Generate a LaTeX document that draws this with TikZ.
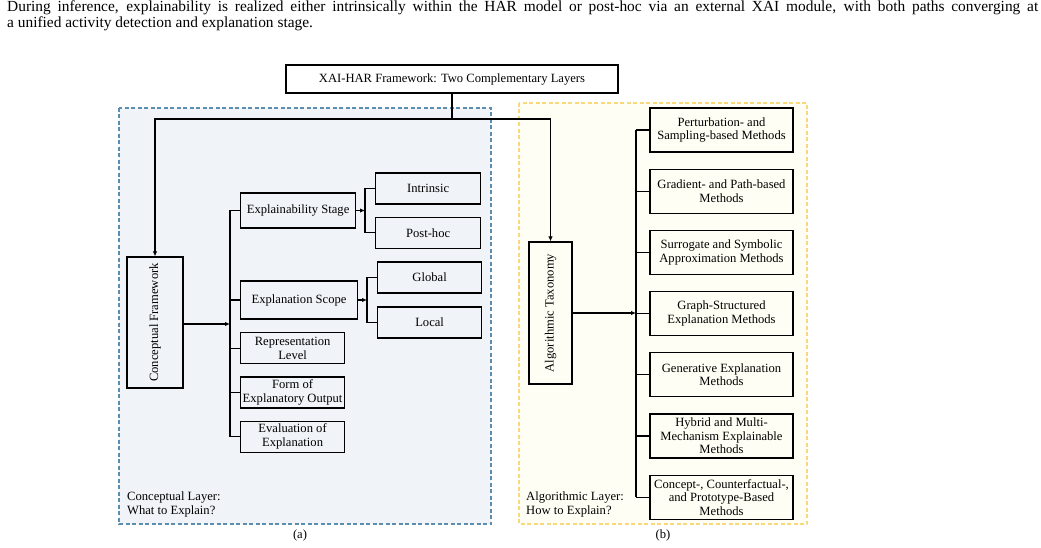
\documentclass[tikz,border=0pt]{standalone}
\usepackage{fontspec}
\setmainfont{Liberation Serif}
\usepackage{graphicx}
\usetikzlibrary{positioning,arrows.meta}
\definecolor{concfill}{HTML}{F0F4F8}
\definecolor{concline}{HTML}{5A8DB0}
\definecolor{algfill}{HTML}{FFFEF4}
\definecolor{algline}{HTML}{F8D878}
\newcommand{\boxfont}{\fontsize{12.6}{13.5}\selectfont}
\newcommand{\capfont}{\fontsize{15.4}{16}\selectfont}

\begin{document}
\begin{tikzpicture}[x=1pt,y=-1pt,
    box/.style={draw, line width=1.2pt, align=center, inner xsep=1pt, inner ysep=1pt, font=\boxfont},
    cbox/.style={box, minimum width=104pt, minimum height=31pt},
    mbox/.style={box, minimum width=143pt, minimum height=44pt},
    link/.style={line width=1.1pt},
    arr/.style={link, -{Latex[length=5pt,width=4.5pt]}},
    layer/.style={line width=1.2pt, dash pattern=on 4pt off 2.5pt},
    note/.style={inner sep=0pt, align=left, font=\fontsize{12.6}{14}\selectfont}]
\useasboundingbox (0,0) rectangle (1041,548);

                \node[anchor=base west, inner sep=0pt, font=\capfont] (c1) at (7,12) {\makebox[1031pt][s]{During inference, explainability is realized either intrinsically within the HAR model or post-hoc via an external XAI module, with both paths converging at}};
                \node[anchor=base west, inner sep=0pt, font=\capfont] (c2) at (7,28) {a unified activity detection and explanation stage.};

                \draw[layer, draw=concline, fill=concfill] (119,108) rectangle (491,524);
                \draw[layer, draw=algline, fill=algfill] (519,103) rectangle (807,524);

                \node[box, fill=white, minimum width=332pt, minimum height=28pt] (top) at (452,79) {XAI-HAR Framework: Two Complementary Layers};

                \node[box, minimum width=56pt, minimum height=131pt] (cf) at (155,322.5) {\rotatebox{90}{Conceptual Framework}};
                \node[cbox, anchor=west, minimum width=115pt, minimum height=35pt] (es) at (240,210.5) {Explainability Stage};
                \node[cbox, anchor=west, minimum width=117pt, minimum height=38pt] (sc) at (240,300) {Explanation Scope};
                \node[cbox, below=12.5pt of sc.south west, anchor=north west] (rl) {Representation\\Level};
                \node[cbox, below=12pt of rl.south west, anchor=north west] (fo) {Form of\\Explanatory Output};
                \node[cbox, below=12pt of fo.south west, anchor=north west] (ev) {Evaluation of\\Explanation};
                \node[cbox, anchor=west, minimum width=105pt] (in) at (375,188.5) {Intrinsic};
                \node[cbox, below=12pt of in, minimum width=105pt] (ph) {Post-hoc};
                \node[cbox, anchor=west] (gl) at (377,277.5) {Global};
                \node[cbox, below=12.8pt of gl] (lo) {Local};

                \node[box, minimum width=43pt, minimum height=142pt] (at) at (550.5,313) {\rotatebox{90}{Algorithmic Taxonomy}};
                \node[mbox] (m1) at (721.5,130) {Perturbation- and\\Sampling-based Methods};
                \node[mbox, below=16pt of m1] (m2) {Gradient- and Path-based\\Methods};
                \node[mbox, below=16pt of m2] (m3) {Surrogate and Symbolic\\Approximation Methods};
                \node[mbox, below=16pt of m3] (m4) {Graph-Structured\\Explanation Methods};
                \node[mbox, below=16pt of m4] (m5) {Generative Explanation\\Methods};
                \node[mbox, below=16pt of m5] (m6) {Hybrid and Multi-\\Mechanism Explainable\\Methods};
                \node[mbox, below=16pt of m6] (m7) {Concept-, Counterfactual-,\\and Prototype-Based\\Methods};

                \node[note, anchor=north west] (cl) at (127,492) {Conceptual Layer:\\What to Explain?};
                \node[note, anchor=north west] (al) at (526,492) {Algorithmic Layer:\\How to Explain?};
                \node[note] (la) at (300,535) {(a)};
                \node[note] (lb) at (663,535) {(b)};

                \coordinate (sp) at (452,119);
                \coordinate (tr) at (230,324);
                \coordinate (s1) at (365,210.5);
                \coordinate (s2) at (367,300);
                \coordinate (tb) at (636,313);

                \draw[link] (top) -- (sp);
                \draw[arr] (sp) -| (cf);
                \draw[arr] (sp) -| (at);

                \draw[arr, line width=1.8pt] (cf.east |- tr) -- (tr);
                \draw[link] (tr |- es.west) -- (tr |- ev.west);
                \foreach \n in {es,sc,rl,fo,ev}
                    \draw[link] (\n.west) -- (tr |- \n.west);

                \draw[arr] (es) -- (s1);
                \draw[link] (in.west) -- (s1 |- in.west) -- (s1 |- ph.west) -- (ph.west);
                \draw[arr] (sc) -- (s2);
                \draw[link] (gl.west) -- (s2 |- gl.west) -- (s2 |- lo.west) -- (lo.west);

                \draw[arr, line width=1.8pt] (at) -- (tb);
                \draw[link] (tb |- m1.west) -- (tb |- m7.west);
                \foreach \n in {m1,m2,m3,m4,m5,m6,m7}
                    \draw[link] (\n.west) -- (tb |- \n.west);
\end{tikzpicture}
\end{document}
